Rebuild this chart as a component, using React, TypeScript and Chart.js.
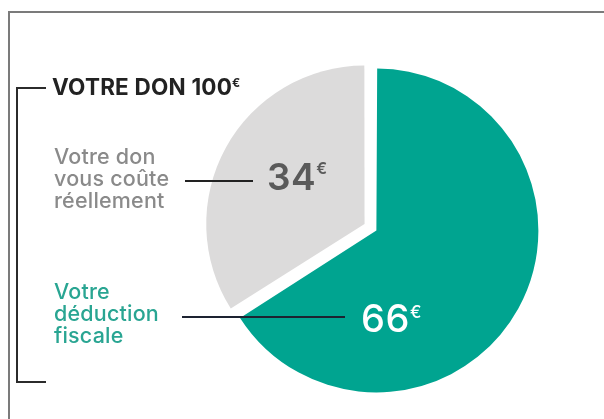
import React, { useEffect, useRef } from "react";
import { Chart, registerables } from "chart.js";

Chart.register(...registerables);

// ---- data ----
const categories = ["Votre déduction fiscale", "Votre don vous coûte réellement"];
const values = [66, 34];
const currency = "€";
const titleText = "VOTRE DON";
const tealLabelLines = ["Votre", "déduction", "fiscale"];
const grayLabelLines = ["Votre don", "vous coûte", "réellement"];

const TEAL = "#00a490";
const GRAY = "#dcdbdb";
const FONT = 'Inter, "Liberation Sans", Arial, sans-serif';
const ASC = 0.969;
const DESC = 0.242;

type TxtProps = {
  x: number;
  baseline: number;
  size: number;
  weight?: number | string;
  color: string;
  ls?: number;
  children: React.ReactNode;
};

function Txt({ x, baseline, size, weight = 400, color, ls = 0, children }: TxtProps) {
  const off = ((1 - (ASC + DESC)) / 2 + ASC) * size;
  return (
    <div
      style={{
        position: "absolute",
        left: x,
        top: baseline - off,
        fontFamily: FONT,
        fontSize: size,
        lineHeight: `${size}px`,
        fontWeight: weight as any,
        color,
        letterSpacing: ls,
        whiteSpace: "nowrap",
      }}
    >
      {children}
    </div>
  );
}

function Sup({ size, raise, children }: { size: number; raise: number; children: React.ReactNode }) {
  return (
    <span style={{ fontSize: size, lineHeight: 0, position: "relative", top: -raise, letterSpacing: 0 }}>
      {children}
    </span>
  );
}

function Rule({ x, y, w, h, color }: { x: number; y: number; w: number; h: number; color: string }) {
  return <div style={{ position: "absolute", left: x, top: y, width: w, height: h, background: color }} />;
}

export default function App() {
  const canvasRef = useRef<HTMLCanvasElement | null>(null);

  useEffect(() => {
    if (!canvasRef.current) return;
    const chart = new Chart(canvasRef.current, {
      type: "pie",
      data: {
        labels: categories,
        datasets: [
          {
            data: values,
            backgroundColor: [TEAL, GRAY],
            borderWidth: 0,
            offset: [20, 34],
            hoverOffset: 0,
            radius: 157,
          } as any,
        ],
      },
      options: {
        responsive: false,
        animation: false,
        events: [],
        radius: 157,
        layout: { padding: { left: 148, right: 8, top: 43, bottom: 6 } },
        plugins: { legend: { display: false }, tooltip: { enabled: false } },
      } as any,
    });
    return () => chart.destroy();
  }, []);

  const total = values.reduce((a, b) => a + b, 0);

  return (
    <div
      style={{
        position: "fixed",
        left: 0,
        top: 0,
        width: 604,
        height: 419,
        overflow: "hidden",
        background: "#ffffff",
      }}
    >
      <canvas
        ref={canvasRef}
        width={604}
        height={419}
        style={{ position: "absolute", left: 0, top: 0, width: 604, height: 419 }}
      />
      {/* frame */}
      <div
        style={{
          position: "absolute",
          left: 8,
          top: 11,
          width: 700,
          height: 500,
          borderTop: "2px solid #7b7b7b",
          borderLeft: "2px solid #7b7b7b",
        }}
      />
      {/* bracket */}
      <Rule x={16} y={87} w={30} h={2} color="#2b2b2b" />
      <Rule x={16} y={87} w={2} h={296} color="#2b2b2b" />
      <Rule x={16} y={381} w={30} h={2} color="#2b2b2b" />

      {/* title */}
      <Txt x={52} baseline={95} size={22.5} weight={700} color="#222222" ls={0.2}>
        {titleText} {total}
        <Sup size={12} raise={8}>{currency}</Sup>
      </Txt>

      {/* gray label */}
      {grayLabelLines.map((t, i) => (
        <Txt key={"g" + i} x={54} baseline={165 + i * 21.7} size={21.5} weight={500} color="#8a8a8a" ls={0.2}>
          {t}
        </Txt>
      ))}
      {/* teal label */}
      {tealLabelLines.map((t, i) => (
        <Txt key={"t" + i} x={54} baseline={300 + i * 22} size={21.5} weight={500} color="#29a592" ls={0.2}>
          {t}
        </Txt>
      ))}

      {/* connectors */}
      <Rule x={185} y={180} w={68} h={2} color="#222222" />
      <Rule x={182} y={316} w={163} h={2} color="#1d2331" />

      {/* values */}
      <Txt x={267} baseline={190} size={37} weight={600} color="#5a5a5a" ls={0.5}>
        {values[1]}
        <Sup size={16} raise={16}>{currency}</Sup>
      </Txt>
      <Txt x={361} baseline={332} size={38} weight={500} color="#ffffff" ls={0.5}>
        {values[0]}
        <Sup size={17} raise={14}>{currency}</Sup>
      </Txt>
    </div>
  );
}
